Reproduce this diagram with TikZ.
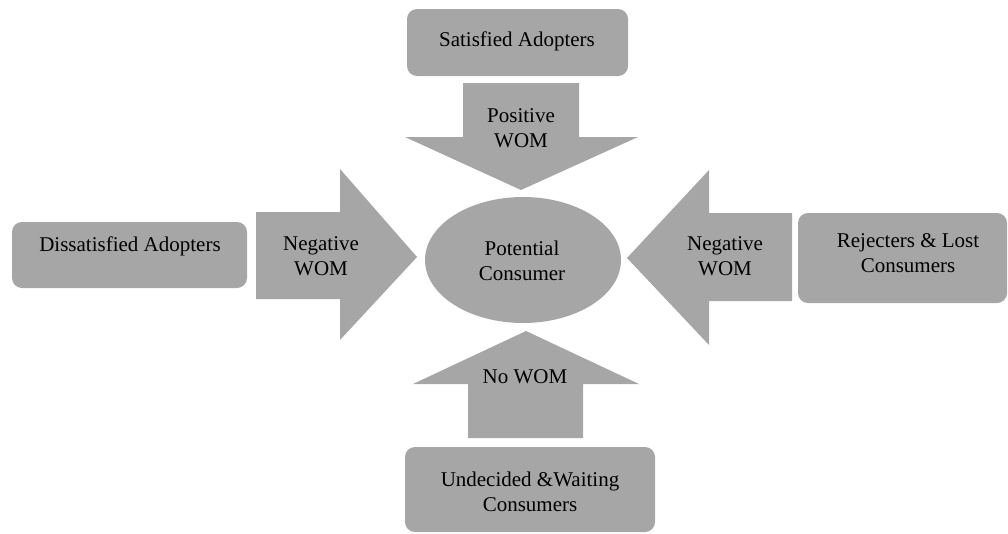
\documentclass[tikz,border=0pt]{standalone}
\usepackage{fontspec}
\setmainfont{Liberation Serif}
\usepackage{tikz}
\usetikzlibrary{positioning,calc}
\definecolor{womGray}{RGB}{166,166,166}
\tikzstyle{greyBox}=[fill=womGray,rounded corners=10pt]
\tikzstyle{womArrow}=[fill=womGray]
\tikzstyle{womText}=[align=center,inner sep=0pt]

\begin{document}
\begin{tikzpicture}[x=1pt,y=-1pt,font=\fontsize{21}{24.5}\selectfont]
    \useasboundingbox (0,0) rectangle (1008,533);
    % boxes round the centre
    \fill [greyBox] (407,9) rectangle (628,76);
    \fill [greyBox] (12,222) rectangle (247,288);
    \fill [greyBox] (798,213) rectangle (1007,303);
    \fill [greyBox] (405,447) rectangle (655,532);
    % centre
    \fill [womGray] (523,260) ellipse (98 and 63);
    % block arrows
    \fill [womArrow] (463,83) -- (579,83) -- (579,137) -- (638,137) -- (521,190)
      -- (405,137) -- (463,137) -- cycle;
    \fill [womArrow] (256,212) -- (340,212) -- (340,169) -- (417,257) -- (340,340)
      -- (340,299) -- (256,299) -- cycle;
    \fill [womArrow] (792,213) -- (709,213) -- (709,170) -- (627,258) -- (709,345)
      -- (709,301) -- (792,301) -- cycle;
    \fill [womArrow] (468,438) -- (468,384) -- (413,384) -- (526,331) -- (639,384)
      -- (583,384) -- (583,438) -- cycle;
    % texts
    \node [womText] (sat) at (517,41) {Satisfied Adopters};
    \node [womText] (dis) at (130,246) {Dissatisfied Adopters};
    \node [womText] (rej) at (908,253) {Rejecters \& Lost\\Consumers};
    \node [womText] (und) at (530,492) {Undecided \&Waiting\\Consumers};
    \node [womText] (pot) at (522,261) {Potential\\Consumer};
    \node [womText] (pos) at (521,128) {Positive\\WOM};
    \node [womText] (negL) at (321,256) {Negative\\WOM};
    \node [womText] (negR) at (725,256) {Negative\\WOM};
    \node [womText] (none) at (525,377) {No WOM};
\end{tikzpicture}
\end{document}
